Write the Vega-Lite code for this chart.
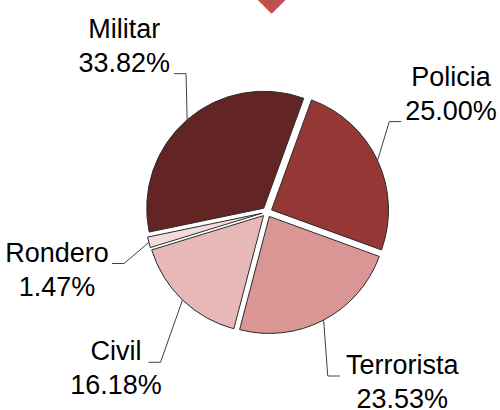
{
  "$schema": "https://vega.github.io/schema/vega-lite/v6.json",
  "width": 500,
  "height": 410,
  "autosize": {"type": "none"},
  "padding": 0,
  "background": "white",
  "config": {"view": {"stroke": null}},
  "title": {"text": "◆", "color": "#C0504D", "fontSize": 38, "font": "DejaVu Sans", "anchor": "start", "frame": "group", "dx": 257, "offset": 0, "baseline": "middle", "dy": 36},
  "data": {
    "values": [
      {"label": "Policia", "value": 25.00, "ord": 1},
      {"label": "Terrorista", "value": 23.53, "ord": 2},
      {"label": "Civil", "value": 16.18, "ord": 3},
      {"label": "Rondero", "value": 1.47, "ord": 4},
      {"label": "Militar", "value": 33.82, "ord": 5}
    ]
  },
  "transform": [
    {"window": [{"op": "sum", "field": "value", "as": "cum"}], "sort": [{"field": "ord"}], "frame": [null, 0]},
    {"joinaggregate": [{"op": "sum", "field": "value", "as": "total"}]},
    {"calculate": "0.349 + 2*PI*(datum.cum - datum.value)/datum.total", "as": "t0"},
    {"calculate": "0.349 + 2*PI*datum.cum/datum.total", "as": "t1"},
    {"calculate": "(datum.t0 + datum.t1)/2", "as": "mid"},
    {"calculate": "5*sin(datum.mid)", "as": "ox"},
    {"calculate": "5*cos(datum.mid)", "as": "oy"},
    {"calculate": "122*sin(datum.mid)", "as": "ax"},
    {"calculate": "122*cos(datum.mid)", "as": "ay"},
    {"calculate": "218*sin(datum.mid)", "as": "lx0"},
    {"calculate": "218*cos(datum.mid)", "as": "ly0"},
    {"calculate": "clamp(datum.lx0, -210, 184)", "as": "lx1"},
    {"calculate": "datum.lx1 != datum.lx0 ? (datum.ly0 < 0 ? -1 : 1)*sqrt(218*218 - datum.lx1*datum.lx1) : datum.ly0", "as": "ly1"},
    {"calculate": "clamp(datum.ly1, -171, 168)", "as": "ly"},
    {"calculate": "datum.ly != datum.ly1 ? (datum.lx1 < 0 ? -1 : 1)*sqrt(218*218 - datum.ly*datum.ly) : datum.lx1", "as": "lx"},
    {"calculate": "format(datum.value, '.2f') + '%'", "as": "pct"},
    {"calculate": "[datum.label, datum.pct]", "as": "lines"},
    {"calculate": "datum.ly > 0 ? datum.pct : datum.label", "as": "hookline"},
    {"calculate": "0.556*length(datum.hookline) - 0.28*length(replace(datum.hookline, regexp('[^ilrtfj.I]', 'g'), '')) + 0.17*length(replace(datum.hookline, regexp('[^A-Z]', 'g'), '')) + 0.33*length(replace(datum.hookline, regexp('[^%]', 'g'), ''))", "as": "wem"},
    {"calculate": "datum.lx < 0 ? -1 : 1", "as": "sgn"},
    {"calculate": "datum.lx - datum.sgn*(27*datum.wem/2 + 4)", "as": "hx"},
    {"calculate": "datum.hx - datum.sgn*12", "as": "ex"},
    {"calculate": "datum.ly > 0 ? datum.ly - 26.5 : datum.ly + 7", "as": "hy"}
  ],
  "layer": [
    {
      "mark": {"type": "arc", "outerRadius": 117, "stroke": "#2b2b2b", "strokeWidth": 1},
      "encoding": {
        "theta": {"field": "t0", "type": "quantitative", "scale": null, "stack": null},
        "theta2": {"field": "t1"},
        "x": {"field": "ox", "type": "quantitative", "scale": {"domain": [-267, 233], "nice": false, "zero": false}, "axis": null},
        "y": {"field": "oy", "type": "quantitative", "scale": {"domain": [-198, 212], "nice": false, "zero": false}, "axis": null},
        "color": {
          "field": "label", "type": "nominal", "legend": null,
          "scale": {"domain": ["Policia", "Terrorista", "Civil", "Rondero", "Militar"], "range": ["#953735", "#D99694", "#E6B9B8", "#F2DCDB", "#632523"]}
        }
      }
    },
    {
      "mark": {"type": "rule", "color": "#404040", "strokeWidth": 1},
      "encoding": {
        "x": {"field": "ax", "type": "quantitative"},
        "y": {"field": "ay", "type": "quantitative"},
        "x2": {"field": "ex"},
        "y2": {"field": "hy"}
      }
    },
    {
      "mark": {"type": "rule", "color": "#404040", "strokeWidth": 1},
      "encoding": {
        "x": {"field": "ex", "type": "quantitative"},
        "y": {"field": "hy", "type": "quantitative"},
        "x2": {"field": "hx"},
        "y2": {"field": "hy"}
      }
    },
    {
      "mark": {"type": "text", "align": "center", "baseline": "middle", "fontSize": 27, "font": "Liberation Sans", "lineHeight": 34, "dy": -17, "color": "#000000"},
      "encoding": {
        "x": {"field": "lx", "type": "quantitative"},
        "y": {"field": "ly", "type": "quantitative"},
        "text": {"field": "lines"}
      }
    }
  ]
}
